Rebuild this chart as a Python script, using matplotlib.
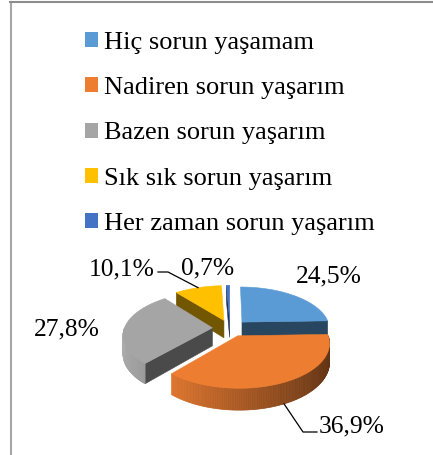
import matplotlib
matplotlib.use('Agg')
import matplotlib.pyplot as plt
from matplotlib.patches import Polygon, Patch
from matplotlib.lines import Line2D
from matplotlib.colors import to_rgb
import numpy as np

plt.rcParams['font.family'] = ['Liberation Serif', 'DejaVu Serif']

categories = ['Hiç sorun yaşamam', 'Nadiren sorun yaşarım', 'Bazen sorun yaşarım',
              'Sık sık sorun yaşarım', 'Her zaman sorun yaşarım']
values = [24.5, 36.9, 27.8, 10.1, 0.7]
labels = ['24,5%', '36,9%', '27,8%', '10,1%', '0,7%']
colors = ['#5B9BD5', '#ED7D31', '#A5A5A5', '#FFC000', '#4472C4']

# label positions in pixel space (x, y)
label_pos = [(329, 276), (352, 426), (67, 329), (122, 269), (208, 268)]

W, H = 433, 455
fig = plt.figure(figsize=(W / 100, H / 100), dpi=100)
fig.patch.set_facecolor('white')
ax = fig.add_axes([0, 0, 1, 1])
ax.set_xlim(0, W)
ax.set_ylim(H, 0)
ax.axis('off')

# 3D pie geometry (pixels)
CX, CY = 230, 328
A, B = 88, 42       # horizontal / vertical radius
K = 0.15            # perspective
D = 18              # thickness
E = 0.2             # explode fraction


def proj(X, Z, h):
    s = 1.0 / (1.0 + K * Z)
    return CX + A * X * s, CY - B * Z * s + D * h * s


def shade(c, f):
    r, g, b = to_rgb(c)
    return (r * f, g * f, b * f)


total = sum(values)
angles = np.cumsum([0] + [v / total * 360 for v in values])
slices = []
for i, v in enumerate(values):
    t0, t1 = angles[i], angles[i + 1]
    m = np.radians((t0 + t1) / 2)
    ox, oz = E * np.sin(m), E * np.cos(m)
    slices.append((i, t0, t1, ox, oz))

# back slices first
for i, t0, t1, ox, oz in sorted(slices, key=lambda s: -s[4]):
    c = colors[i]
    th = np.radians(np.linspace(t0, t1, max(3, int(t1 - t0) + 2)))
    # radial walls
    for t, vis in ((t0, np.sin(np.radians(t0)) < -1e-6), (t1, np.sin(np.radians(t1)) > 1e-6)):
        if vis:
            r = np.radians(t)
            pts = [proj(ox, oz, 0), proj(ox + np.sin(r), oz + np.cos(r), 0),
                   proj(ox + np.sin(r), oz + np.cos(r), 1), proj(ox, oz, 1)]
            ax.add_patch(Polygon(pts, closed=True, facecolor=shade(c, 0.45),
                                 edgecolor=shade(c, 0.45), lw=0.4))
    # outer curved wall (front part), shaded
    lo, hi = max(t0, 90), min(t1, 270)
    if hi > lo:
        tt = np.radians(np.linspace(lo, hi, int(hi - lo) + 2))
        for a0, a1 in zip(tt[:-1], tt[1:]):
            f = 0.72 - 0.32 * np.sin((a0 + a1) / 2)
            pts = [proj(ox + np.sin(a0), oz + np.cos(a0), 0), proj(ox + np.sin(a1), oz + np.cos(a1), 0),
                   proj(ox + np.sin(a1), oz + np.cos(a1), 1), proj(ox + np.sin(a0), oz + np.cos(a0), 1)]
            ax.add_patch(Polygon(pts, closed=True, facecolor=shade(c, f),
                                 edgecolor=shade(c, f), lw=0.5))
    # top face
    pts = [proj(ox, oz, 0)] + [proj(ox + np.sin(t), oz + np.cos(t), 0) for t in th]
    ax.add_patch(Polygon(pts, closed=True, facecolor=c, edgecolor=c, lw=0.4))

# data labels
for i, (lx, ly) in enumerate(label_pos):
    ax.text(lx, ly, labels[i], fontsize=18.4, ha='center', va='center', color='black')

# leader lines
_, t0, t1, ox, oz = slices[1]
m = np.radians((t0 + t1) / 2)
x0, y0 = proj(ox + np.sin(m), oz + np.cos(m), 1)
ax.plot([x0, 303, 317], [y0, 432, 432], color='black', lw=0.9)
_, t0, t1, ox, oz = slices[3]
m = np.radians((t0 + t1) / 2)
x0, y0 = proj(ox + np.sin(m), oz + np.cos(m), 0)
ax.plot([158, 168, x0], [272, 272, y0], color='black', lw=0.9)

# legend
handles = [Patch(facecolor=c, edgecolor='none') for c in colors]
fig.legend(handles, categories, loc='upper left', bbox_to_anchor=(85 / W, 1 - 32 / H),
           frameon=False, fontsize=19, borderpad=0, borderaxespad=0,
           handlelength=0.5, handleheight=0.5, handletextpad=0.23, labelspacing=0.88)

# frame
fig.add_artist(Line2D([10.5 / W, 10.5 / W], [0, 1 - 2 / H], transform=fig.transFigure,
                      color='#A6A6A6', lw=1.5))
fig.add_artist(Line2D([10 / W, 1], [1 - 2 / H, 1 - 2 / H], transform=fig.transFigure,
                      color='#8C8C8C', lw=1.5))

fig.savefig('out.png', dpi=100, facecolor='white')
